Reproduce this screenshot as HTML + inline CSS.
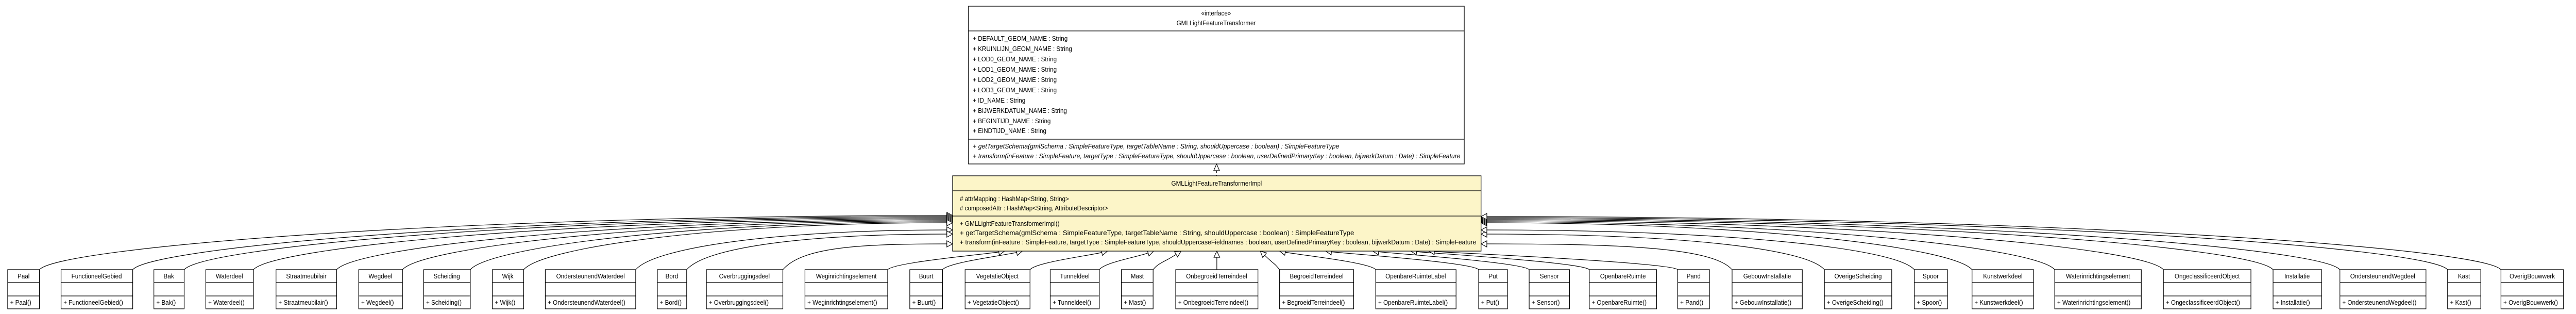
<!DOCTYPE html>
<html><head><meta charset="utf-8"><style>
html,body{margin:0;padding:0;background:#fff;width:100%;height:100%;overflow:hidden;}
svg{display:block;width:100vw;height:100vh;}
text{font-family:"Liberation Sans",sans-serif;font-size:12.5px;fill:#000;}
.it{font-style:italic;}
</style></head><body>
<svg id="s" viewBox="0 0 5357 609" preserveAspectRatio="none" xmlns="http://www.w3.org/2000/svg">
<g id="conn" fill="none" stroke="#000" stroke-width="1.2"></g>
<rect x="2014" y="12" width="1031" height="306" fill="#fff" stroke="#000" stroke-width="1.3"/>
<line x1="2014" y1="60" x2="3045" y2="60" stroke="#000" stroke-width="1.3"/>
<line x1="2014" y1="270" x2="3045" y2="270" stroke="#000" stroke-width="1.3"/>
<text x="2529" y="30" text-anchor="middle" font-size="11">«interface»</text>
<text x="2529" y="49" text-anchor="middle">GMLLightFeatureTransformer</text>
<text x="2023" y="79">+ DEFAULT_GEOM_NAME : String</text>
<text x="2023" y="99">+ KRUINLIJN_GEOM_NAME : String</text>
<text x="2023" y="119">+ LOD0_GEOM_NAME : String</text>
<text x="2023" y="139">+ LOD1_GEOM_NAME : String</text>
<text x="2023" y="159">+ LOD2_GEOM_NAME : String</text>
<text x="2023" y="179">+ LOD3_GEOM_NAME : String</text>
<text x="2023" y="199">+ ID_NAME : String</text>
<text x="2023" y="219">+ BIJWERKDATUM_NAME : String</text>
<text x="2023" y="239">+ BEGINTIJD_NAME : String</text>
<text x="2023" y="258">+ EINDTIJD_NAME : String</text>
<text class="it" x="2023" y="288" textLength="762" lengthAdjust="spacingAndGlyphs">+ getTargetSchema(gmlSchema : SimpleFeatureType, targetTableName : String, shouldUppercase : boolean) : SimpleFeatureType</text>
<text class="it" x="2023" y="307" textLength="1014" lengthAdjust="spacingAndGlyphs">+ transform(inFeature : SimpleFeature, targetType : SimpleFeatureType, shouldUppercase : boolean, userDefinedPrimaryKey : boolean, bijwerkDatum : Date) : SimpleFeature</text>
<line x1="2530" y1="330" x2="2530" y2="341" stroke="#000" stroke-width="1.2" stroke-dasharray="5,4"/>
<polygon points="2530,318 2524,331 2536,331" fill="#fff" stroke="#000" stroke-width="1.2"/>
<rect x="1981" y="341" width="1099" height="146" fill="#fcf5c8" stroke="#000" stroke-width="1.3"/>
<line x1="1981" y1="370" x2="3080" y2="370" stroke="#000" stroke-width="1.3"/>
<line x1="1981" y1="419" x2="3080" y2="419" stroke="#000" stroke-width="1.3"/>
<text x="2530" y="360" text-anchor="middle">GMLLightFeatureTransformerImpl</text>
<text x="1996" y="390"># attrMapping : HashMap&lt;String, String&gt;</text>
<text x="1996" y="408"># composedAttr : HashMap&lt;String, AttributeDescriptor&gt;</text>
<text x="1996" y="438">+ GMLLightFeatureTransformerImpl()</text>
<text x="1996" y="456" textLength="820" lengthAdjust="spacingAndGlyphs">+ getTargetSchema(gmlSchema : SimpleFeatureType, targetTableName : String, shouldUppercase : boolean) : SimpleFeatureType</text>
<text x="1996" y="474" textLength="1074" lengthAdjust="spacingAndGlyphs">+ transform(inFeature : SimpleFeature, targetType : SimpleFeatureType, shouldUppercaseFieldnames : boolean, userDefinedPrimaryKey : boolean, bijwerkDatum : Date) : SimpleFeature</text>
<g id="boxes" fill="#fff" stroke="#000" stroke-width="1.3">
</g>
<g id="btext">
<text x="49" y="540" text-anchor="middle">Paal</text><text x="21" y="591">+ Paal()</text>
<text x="201" y="540" text-anchor="middle">FunctioneelGebied</text><text x="132" y="591">+ FunctioneelGebied()</text>
<text x="351" y="540" text-anchor="middle">Bak</text><text x="325" y="591">+ Bak()</text>
<text x="477" y="540" text-anchor="middle">Waterdeel</text><text x="433" y="591">+ Waterdeel()</text>
<text x="637" y="540" text-anchor="middle">Straatmeubilair</text><text x="579" y="591">+ Straatmeubilair()</text>
<text x="791" y="540" text-anchor="middle">Wegdeel</text><text x="751" y="591">+ Wegdeel()</text>
<text x="929" y="540" text-anchor="middle">Scheiding</text><text x="886" y="591">+ Scheiding()</text>
<text x="1056" y="540" text-anchor="middle">Wijk</text><text x="1029" y="591">+ Wijk()</text>
<text x="1228" y="540" text-anchor="middle">OndersteunendWaterdeel</text><text x="1139" y="591">+ OndersteunendWaterdeel()</text>
<text x="1397" y="540" text-anchor="middle">Bord</text><text x="1372" y="591">+ Bord()</text>
<text x="1548" y="540" text-anchor="middle">Overbruggingsdeel</text><text x="1474" y="591">+ Overbruggingsdeel()</text>
<text x="1760" y="540" text-anchor="middle">Weginrichtingselement</text><text x="1679" y="591">+ Weginrichtingselement()</text>
<text x="1926" y="540" text-anchor="middle">Buurt</text><text x="1897" y="591">+ Buurt()</text>
<text x="2074" y="540" text-anchor="middle">VegetatieObject</text><text x="2012" y="591">+ VegetatieObject()</text>
<text x="2235" y="540" text-anchor="middle">Tunneldeel</text><text x="2189" y="591">+ Tunneldeel()</text>
<text x="2365" y="540" text-anchor="middle">Mast</text><text x="2337" y="591">+ Mast()</text>
<text x="2530" y="540" text-anchor="middle">OnbegroeidTerreindeel</text><text x="2450" y="591">+ OnbegroeidTerreindeel()</text>
<text x="2738" y="540" text-anchor="middle">BegroeidTerreindeel</text><text x="2666" y="591">+ BegroeidTerreindeel()</text>
<text x="2944" y="540" text-anchor="middle">OpenbareRuimteLabel</text><text x="2866" y="591">+ OpenbareRuimteLabel()</text>
<text x="3105" y="540" text-anchor="middle">Put</text><text x="3080" y="591">+ Put()</text>
<text x="3222" y="540" text-anchor="middle">Sensor</text><text x="3185" y="591">+ Sensor()</text>
<text x="3375" y="540" text-anchor="middle">OpenbareRuimte</text><text x="3310" y="591">+ OpenbareRuimte()</text>
<text x="3522" y="540" text-anchor="middle">Pand</text><text x="3494" y="591">+ Pand()</text>
<text x="3675" y="540" text-anchor="middle">GebouwInstallatie</text><text x="3607" y="591">+ GebouwInstallatie()</text>
<text x="3864" y="540" text-anchor="middle">OverigeScheiding</text><text x="3799" y="591">+ OverigeScheiding()</text>
<text x="4015" y="540" text-anchor="middle">Spoor</text><text x="3986" y="591">+ Spoor()</text>
<text x="4165" y="540" text-anchor="middle">Kunstwerkdeel</text><text x="4106" y="591">+ Kunstwerkdeel()</text>
<text x="4363" y="540" text-anchor="middle">Waterinrichtingselement</text><text x="4278" y="591">+ Waterinrichtingselement()</text>
<text x="4590" y="540" text-anchor="middle">OngeclassificeerdObject</text><text x="4504" y="591">+ OngeclassificeerdObject()</text>
<text x="4777" y="540" text-anchor="middle">Installatie</text><text x="4732" y="591">+ Installatie()</text>
<text x="4955" y="540" text-anchor="middle">OndersteunendWegdeel</text><text x="4871" y="591">+ OndersteunendWegdeel()</text>
<text x="5124" y="540" text-anchor="middle">Kast</text><text x="5095" y="591">+ Kast()</text>
<text x="5266" y="540" text-anchor="middle">OverigBouwwerk</text><text x="5206" y="591">+ OverigBouwwerk()</text>
</g>
</svg>
<script>
(function(){
var NS="http://www.w3.org/2000/svg";
var B=[
[16,82,'L',418],[127,276,'L',420],[320,383,'L',422],[428,527,'L',424],[574,700,'L',426],[746,837,'L',428],
[881,978,'L',430],[1024,1089,'L',432],[1134,1322,'L',446],[1367,1428,'L',454],[1469,1628,'L',473],
[1674,1846,'B',2089],[1892,1960,'B',2126],[2007,2142,'B',2303],[2184,2286,'B',2399],[2332,2398,'B',2456],
[2445,2616,'C',2530],
[2661,2815,'B',2621],[2861,3028,'B',2661],[3075,3135,'B',2757],[3180,3264,'B',2855],[3305,3445,'B',2934],[3489,3555,'B',2971],
[3602,3748,'R',473],[3794,3934,'R',454],[3981,4050,'R',446],[4101,4229,'R',432],[4273,4453,'R',430],[4499,4681,'R',428],
[4727,4828,'R',426],[4866,5045,'R',424],[5090,5159,'R',422],[5201,5331,'R',420]
];
var g=document.getElementById('conn'),bx=document.getElementById('boxes');
function el(n,a,p){var e=document.createElementNS(NS,n);for(var k in a)e.setAttribute(k,a[k]);p.appendChild(e);return e;}
function head(tx,ty,ux,uy){var L=12,W=6,bx_=tx-ux*L,by=ty-uy*L;var px=-uy,py=ux;
 return tx+','+ty+' '+(bx_+px*W)+','+(by+py*W)+' '+(bx_-px*W)+','+(by-py*W);}
var top=523;
B.forEach(function(b){
 var l=b[0],r=b[1];
 el('rect',{x:l,y:523,width:r-l,height:76},bx);
 el('line',{x1:l,y1:548,x2:r,y2:548},bx);
 el('line',{x1:l,y1:574,x2:r,y2:574},bx);
 var d,pts;
 if(b[2]=='L'){var sx=r,tx=1981,ty=b[3],ex=tx-12;
  d='M'+sx+','+top+' C'+(sx+40)+',480 '+(sx+(ex-sx)*0.45)+','+ty+' '+ex+','+ty;pts=head(tx,ty,1,0);}
 else if(b[2]=='R'){var sx=l,tx=3080,ty=b[3],ex=tx+12;
  d='M'+sx+','+top+' C'+(sx-40)+',480 '+(sx+(ex-sx)*0.45)+','+ty+' '+ex+','+ty;pts=head(tx,ty,-1,0);}
 else if(b[2]=='C'){var sx=(l+r)/2;d='M'+sx+','+top+' L'+sx+',499';pts=head(sx,487,0,-1);}
 else {var sx=(b[3]<2530)?r:l,tx=b[3],ty=487;var dx=tx-sx,dy=ty-top,n=Math.sqrt(dx*dx+dy*dy),ux=dx/n,uy=dy/n;
  var ex=tx-ux*12,ey=ty-uy*12;var c1x=sx+(sx<tx?12:-12),c1y=top-14;
  d='M'+sx+','+top+' C'+c1x+','+c1y+' '+(ex-ux*30)+','+(ey-uy*30)+' '+ex+','+ey;pts=head(tx,ty,ux,uy);}
 el('path',{d:d},g);
 el('polygon',{points:pts,fill:'#fff'},g);
});
})();
</script>
</body></html>
